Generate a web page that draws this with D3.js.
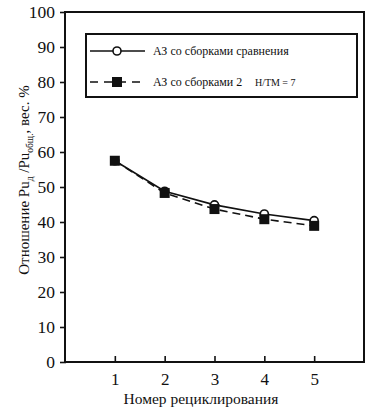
<!DOCTYPE html>
<head>
  <meta charset="utf-8">
  <script src="https://d3js.org/d3.v7.min.js"></script>
  <style>
    body { margin: 0; background: #fff; }
    text { font-family: "Liberation Serif", "DejaVu Serif", serif; fill: #111; }
  </style>
</head>
<body>
<svg width="383" height="417"></svg>
<script>

  // data
  let cycles = [1, 2, 3, 4, 5];
  let reference = [57.5, 48.8, 44.9, 42.3, 40.4];   // open circles, solid
  let variant2 = [57.5, 48.3, 43.7, 40.8, 38.9];    // filled squares, dashed
  let yTicks = [0, 10, 20, 30, 40, 50, 60, 70, 80, 90, 100];
  let legendNames = ["АЗ со сборками сравнения", "АЗ со сборками 2"];

  let svg = d3.select("svg"),
    plotLeft = 65, plotRight = 364, plotTop = 12, plotBottom = 362;

  let x = d3.scaleLinear().domain([0, 6]).range([plotLeft, plotRight]);
  let y = d3.scaleLinear().domain([0, 100]).range([plotBottom, plotTop]);

  // frame
  svg.append("rect")
    .attr("x", plotLeft).attr("y", plotTop)
    .attr("width", plotRight - plotLeft).attr("height", plotBottom - plotTop)
    .attr("fill", "none").attr("stroke", "#111").attr("stroke-width", 2);

  // y axis
  let yAxis = svg.append("g")
    .attr("transform", "translate(" + plotLeft + ",0)")
    .call(d3.axisLeft(y).tickValues(yTicks).tickSize(5).tickPadding(5));
  yAxis.select(".domain").remove();
  yAxis.selectAll("line").attr("stroke", "#111").attr("stroke-width", 1.6).attr("x2", -5).attr("x1", 1);
  yAxis.selectAll("text").attr("font-size", 17.5).attr("font-family", "Liberation Serif").attr("fill", "#111");

  // x axis, ticks inside
  let xAxis = svg.append("g")
    .attr("transform", "translate(0," + plotBottom + ")")
    .call(d3.axisBottom(x).tickValues(cycles).tickSize(0).tickPadding(11).tickFormat(d3.format("d")));
  xAxis.select(".domain").remove();
  xAxis.selectAll(".tick").append("line")
    .attr("y1", 0).attr("y2", -6).attr("stroke", "#111").attr("stroke-width", 1.6);
  xAxis.selectAll("text").attr("font-size", 17).attr("font-family", "Liberation Serif").attr("fill", "#111");

  // curves
  let line = d3.line().x(function (d, i) { return x(cycles[i]); }).y(function (d) { return y(d); });

  svg.append("path").datum(variant2)
    .attr("d", line).attr("fill", "none").attr("stroke", "#111")
    .attr("stroke-width", 1.6).attr("stroke-dasharray", "8,5");
  svg.append("path").datum(reference)
    .attr("d", line).attr("fill", "none").attr("stroke", "#111").attr("stroke-width", 1.6);

  svg.selectAll(".ci").data(reference).enter().append("circle")
    .attr("cx", function (d, i) { return x(cycles[i]); })
    .attr("cy", function (d) { return y(d); })
    .attr("r", 4).attr("fill", "#fff").attr("stroke", "#111").attr("stroke-width", 1.6);
  svg.selectAll(".sq").data(variant2).enter().append("rect")
    .attr("x", function (d, i) { return x(cycles[i]) - 5; })
    .attr("y", function (d) { return y(d) - 5; })
    .attr("width", 10).attr("height", 10).attr("fill", "#111");

  // legend
  let lg = svg.append("g");
  lg.append("rect").attr("x", 86).attr("y", 34).attr("width", 271).attr("height", 63)
    .attr("fill", "#fff").attr("stroke", "#111").attr("stroke-width", 2);
  lg.append("line").attr("x1", 90).attr("x2", 145).attr("y1", 51).attr("y2", 51)
    .attr("stroke", "#111").attr("stroke-width", 1.6);
  lg.append("circle").attr("cx", 117).attr("cy", 51).attr("r", 4)
    .attr("fill", "#fff").attr("stroke", "#111").attr("stroke-width", 1.6);
  lg.append("line").attr("x1", 90).attr("x2", 145).attr("y1", 82).attr("y2", 82)
    .attr("stroke", "#111").attr("stroke-width", 1.6).attr("stroke-dasharray", "8,6");
  lg.append("rect").attr("x", 112).attr("y", 77).attr("width", 10).attr("height", 10).attr("fill", "#111");
  lg.append("text").attr("x", 153).attr("y", 55).attr("font-size", 12).text(legendNames[0]);
  lg.append("text").attr("x", 153).attr("y", 86).attr("font-size", 12).text(legendNames[1]);
  lg.append("text").attr("x", 255).attr("y", 86).attr("font-size", 10).text("Н/ТМ = 7");

  // axis titles
  svg.append("text").attr("x", 201).attr("y", 404).attr("text-anchor", "middle")
    .attr("font-size", 15.5).text("Номер рециклирования");

  let yt = svg.append("text")
    .attr("transform", "translate(29,180) rotate(-90)")
    .attr("text-anchor", "middle").attr("font-size", 15);
  yt.append("tspan").text("Отношение Pu");
  yt.append("tspan").attr("font-size", 9.5).attr("dy", 4).text("д");
  yt.append("tspan").attr("dy", -4).text(" /Pu");
  yt.append("tspan").attr("font-size", 9.5).attr("dy", 4).text("общ.");
  yt.append("tspan").attr("dy", -4).text(", вес. %");

</script>
</body>
